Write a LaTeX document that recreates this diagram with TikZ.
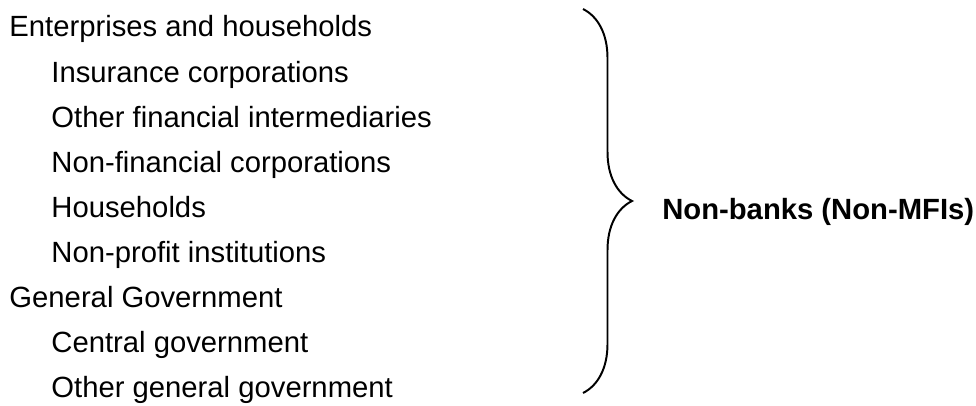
\documentclass[tikz,border=0pt]{standalone}
\usepackage{fontspec}
\setmainfont{Liberation Sans}
\usetikzlibrary{decorations.pathreplacing}

\begin{document}
\begin{tikzpicture}
\tikzstyle{item}=[anchor=base west,inner sep=0pt,font=\fontsize{20.8}{25}\selectfont]
\tikzstyle{bigbrace}=[line width=1.4pt,decoration={brace,amplitude=1.225cm},decorate]

\useasboundingbox (0,0) rectangle (24.4,10.125);
\node[item] (eh) at (0.23,9.2) {Enterprises and households};
\node[item] (ic) at (1.28,8.075) {Insurance corporations};
\node[item] (ofi) at (1.28,6.95) {Other financial intermediaries};
\node[item] (nfc) at (1.28,5.825) {Non-financial corporations};
\node[item] (hh) at (1.28,4.7) {Households};
\node[item] (npi) at (1.28,3.575) {Non-profit institutions};
\node[item] (gg) at (0.23,2.45) {General Government};
\node[item] (cg) at (1.28,1.325) {Central government};
\node[item] (ogg) at (1.28,0.2) {Other general government};
\coordinate (btop) at (14.575,9.9);
\coordinate (bbot) at (14.575,0.3);
\draw[bigbrace] (btop) -- (bbot);
\node[item,font=\fontsize{20.8}{25}\selectfont\bfseries] (nb) at (16.55,4.65) {Non-banks (Non-MFIs)};
\end{tikzpicture}
\end{document}
